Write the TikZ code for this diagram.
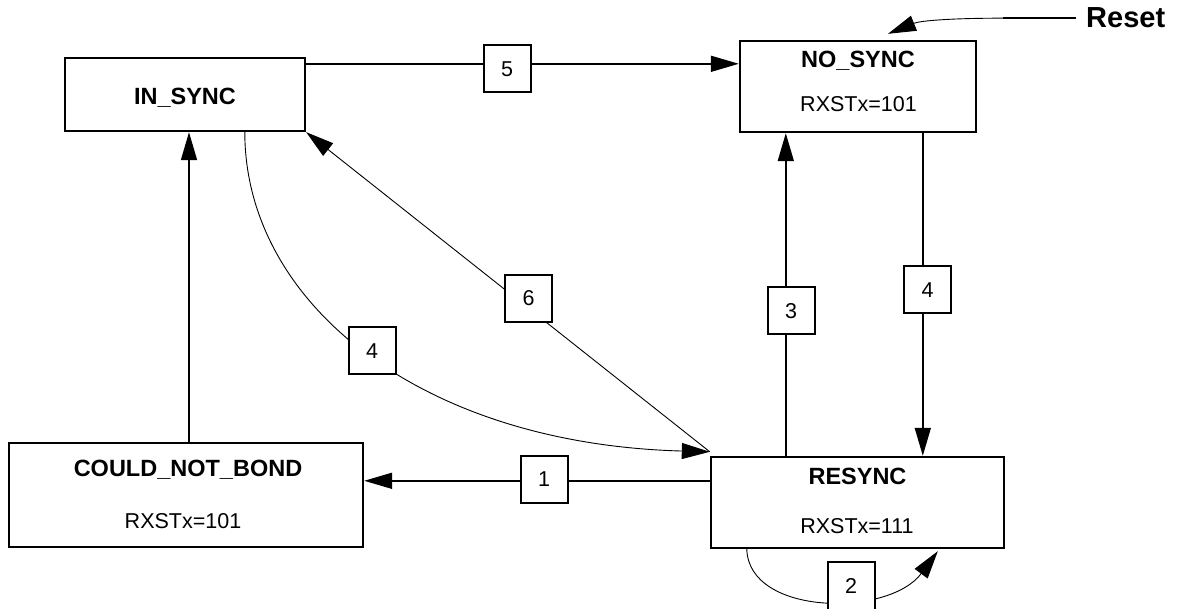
\documentclass[tikz,border=0pt]{standalone}
\usepackage{fontspec}
\setmainfont{Liberation Sans}
\usetikzlibrary{arrows.meta,calc}
\begin{document}
\begin{tikzpicture}[x=1pt,y=-1pt,
  state/.style={draw,line width=2.4pt,inner sep=0pt},
  title/.style={font=\fontsize{23.5}{28}\selectfont\bfseries,inner sep=0pt,anchor=base},
  value/.style={font=\fontsize{21.5}{26}\selectfont,inner sep=0pt,anchor=base},
  lbl/.style={draw,line width=2pt,fill=white,minimum size=47pt,inner sep=0pt,font=\fontsize{21.5}{26}\selectfont},
  conn/.style={line width=1.7pt,-{Triangle[length=28pt,width=16pt]}},
  thinconn/.style={line width=0.9pt,-{Triangle[length=28pt,width=16pt]}}]
\useasboundingbox (0,0) rectangle (1179,609);

% states
\node[state,minimum width=240pt,minimum height=73pt] (insync) at (185,94.5) {};
\node[title] (insynct) at (185,105) {IN\_SYNC};
\node[state,minimum width=236pt,minimum height=91pt] (nosync) at (858,86.5) {};
\node[title] (nosynct) at (858,68) {NO\_SYNC};
\node[value] (nosyncv) at (858.5,112) {RXSTx=101};
\node[state,minimum width=293pt,minimum height=91pt] (resync) at (857.5,502.5) {};
\node[title] (resynct) at (857.5,485) {RESYNC};
\node[value] (resyncv) at (857,533) {RXSTx=111};
\node[state,minimum width=354pt,minimum height=104pt] (cnb) at (186,495) {};
\node[title] (cnbt) at (188,477) {COULD\_NOT\_BOND};
\node[value] (cnbv) at (183,529) {RXSTx=101};
\node[font=\fontsize{29}{34}\selectfont\bfseries,inner sep=0pt,anchor=base west] (reset) at (1086,28) {Reset};

% connectors
\coordinate (a5) at ($(insync.north east)+(0,7)$);
\draw[conn] (a5) -- (a5 -| nosync.west);
\coordinate (a1) at ($(resync.north west)+(0,25)$);
\draw[conn] (a1) -- (a1 -| cnb.east);
\coordinate (a3) at ($(resync.north west)+(76,0)$);
\draw[conn] (a3) -- (a3 |- nosync.south);
\coordinate (a4) at ($(nosync.south west)+(184,0)$);
\draw[conn] (a4) -- (a4 |- resync.north);
\coordinate (av) at ($(cnb.north)+(3,0)$);
\draw[conn] (av) -- (av |- insync.south);
\coordinate (c6) at ($(resync.north west)+(0,-4)$);
\draw[thinconn] (c6) -- (insync.south east);
\coordinate (b4) at ($(insync.south west)+(181,0)$);
\draw[thinconn] (b4) .. controls +(0,169) and +(-292,-8) .. (c6);
\coordinate (s0) at ($(resync.south west)+(37,0)$);
\coordinate (s1) at ($(resync.south west)+(228,2)$);
\draw[thinconn] (s0) .. controls +(2,67) and +(-49,66) .. (s1);
\coordinate (r0) at ($(reset.west)+(-10,0)$);
\coordinate (r1) at ($(r0)+(-73,0)$);
\draw[line width=1.7pt] (r0) -- (r1);
\draw[thinconn] (r1) .. controls +(-53,0) and +(32,-13) .. ($(nosync.north)+(30,-6)$);

% labels
\node[lbl] (lab5) at (507,69) {5};
\node[lbl] (lab3) at (791,311) {3};
\node[lbl] (lab4r) at (927.5,290) {4};
\node[lbl] (lab6) at (528.5,298.5) {6};
\node[lbl] (lab4l) at (372,351) {4};
\node[lbl] (lab1) at (544,479.5) {1};
\node[lbl] (lab2) at (851,586) {2};
\end{tikzpicture}
\end{document}
